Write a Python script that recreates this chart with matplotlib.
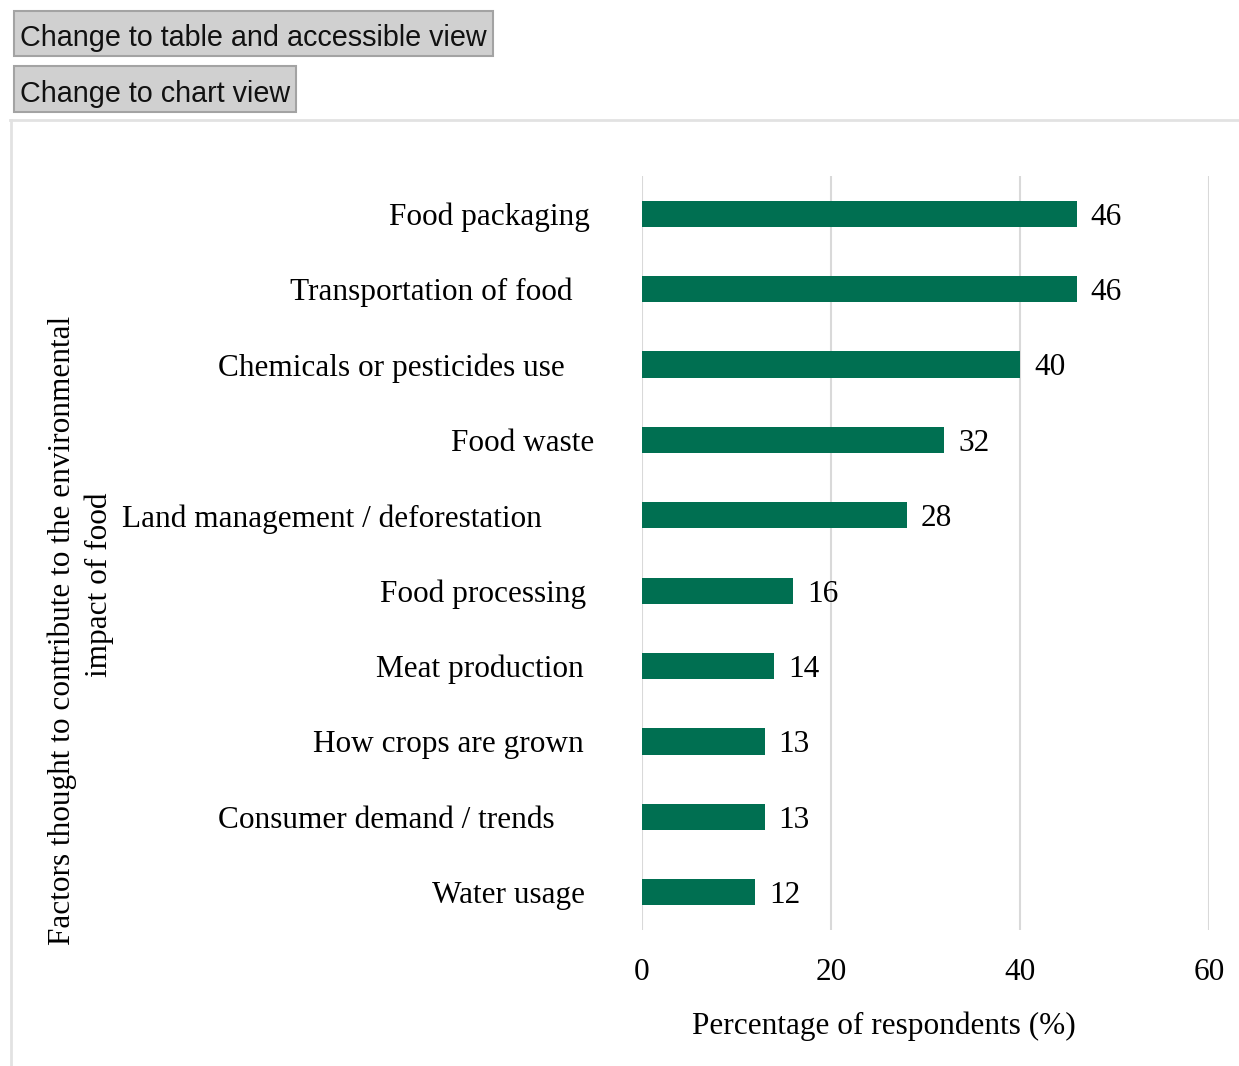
import numpy as np
import matplotlib.pyplot as plt
from matplotlib.patches import Rectangle
from matplotlib.lines import Line2D

factors = ["Food packaging", "Transportation of food", "Chemicals or pesticides use",
           "Food waste", "Land management / deforestation", "Food processing",
           "Meat production", "How crops are grown", "Consumer demand / trends",
           "Water usage"]
percent = [46, 46, 40, 32, 28, 16, 14, 13, 13, 12]
x_ticks = [0, 20, 40, 60]

W, H = 1239, 1066
plt.rcParams['font.family'] = ['Liberation Serif', 'DejaVu Serif']
fig = plt.figure(figsize=(W/100, H/100), dpi=100)

# buttons above the chart
def button(x0, y0, x1, y1, text):
    fig.patches.append(Rectangle((x0/W, 1-y1/H), (x1-x0)/W, (y1-y0)/H,
                                 transform=fig.transFigure, facecolor='#d0d0d0',
                                 edgecolor='#a3a3a3', linewidth=1.5))
    fig.text((x0+6)/W, 1-((y0+y1)/2+2)/H, text, ha='left', va='center_baseline',
             fontsize=20.7, family=['Liberation Sans', 'DejaVu Sans'], color='#111111')

button(14, 11, 493, 56, "Change to table and accessible view")
button(14, 66, 296, 112, "Change to chart view")

# chart frame
fig.lines.append(Line2D([10/W, 1], [1-120/H, 1-120/H], transform=fig.transFigure,
                        color='#e2e2e2', linewidth=2))
fig.lines.append(Line2D([11/W, 11/W], [1-120/H, 0], transform=fig.transFigure,
                        color='#e2e2e2', linewidth=2))

ax = fig.add_axes([642/W, 1-930/H, (1209-642)/W, (930-176)/H])
y = np.arange(len(factors))
ax.barh(y, percent, height=0.35, color='#006f51', zorder=3)
ax.set_xlim(0, 60)
ax.set_ylim(len(factors)-0.5, -0.5)
ax.set_xticks(x_ticks)
ax.set_xticklabels([str(t) for t in x_ticks], fontsize=22.5)
ax.tick_params(axis='x', length=0, pad=20)
ax.set_yticks([])
ax.grid(axis='x', color='#d9d9d9', linewidth=1.5, zorder=0)
for s in ax.spines.values():
    s.set_visible(False)

# category labels, each with its own gap from the axis
gaps = [52, 70, 77, 48, 100, 56, 58, 58, 87, 57]
for yi, name, g in zip(y, factors, gaps):
    ax.text(-g/567, yi, name, transform=ax.get_yaxis_transform(),
            ha='right', va='center_baseline', fontsize=22.5)

for yi, v in zip(y, percent):
    ax.annotate(str(v), (v, yi), xytext=(10, 0), textcoords='offset points',
                ha='left', va='center_baseline', fontsize=22.5)

fig.text(884/W, 1-1026/H, "Percentage of respondents (%)", ha='center', va='center',
         fontsize=22.5)
# y title, two lines drawn separately
fig.text(62/W, 1-630/H, "Factors thought to contribute to the environmental",
         rotation=90, ha='center', va='center', fontsize=22.5)
fig.text(99/W, 1-585/H, "impact of food",
         rotation=90, ha='center', va='center', fontsize=22.5)

fig.savefig('out.png', dpi=100)
